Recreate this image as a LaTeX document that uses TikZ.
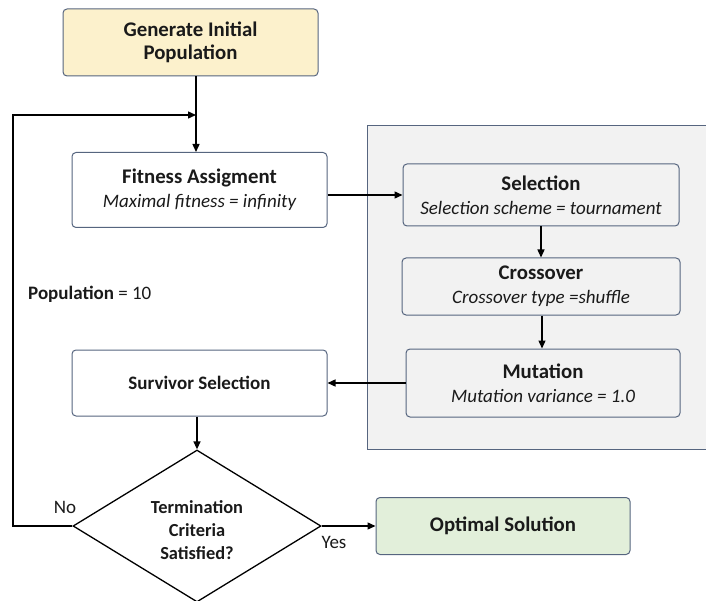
\documentclass[tikz,border=0pt]{standalone}
\usepackage{fontspec}
\setmainfont{Carlito}
\usetikzlibrary{arrows.meta,shapes.geometric}
\definecolor{bordc}{HTML}{56657F}
\definecolor{genfill}{HTML}{FCF1CC}
\definecolor{optfill}{HTML}{E2EFDA}
\definecolor{panelfill}{HTML}{F2F2F2}
\definecolor{txt}{HTML}{1A1A1A}
\newcommand{\sbt}{\fontsize{19}{24}\selectfont\mdseries\itshape}
\tikzset{
  box/.style={draw=bordc, line width=1pt, rounded corners=4pt, fill=white,
    align=center, text=txt, inner sep=0pt, font=\fontsize{20.8}{24}\selectfont\bfseries},
  arr/.style={line width=1.4pt, -{Triangle[length=8pt,width=7pt]}},
}
\begin{document}
\begin{tikzpicture}[x=1pt,y=-1pt]
\useasboundingbox (0,0) rectangle (706,601);
% panel
\fill[panelfill] (367,126) rectangle (712,449);
\draw[bordc, line width=1pt] (712,126) -- (367,126) -- (367,449) -- (712,449);

\node[box, fill=genfill, minimum width=255, minimum height=67,
  font=\fontsize{20.8}{23}\selectfont\bfseries] (gen) at (190.5,42.5)
  {\raisebox{-2pt}{Generate Initial}\\\raisebox{-2pt}{Population}};
\node[box, minimum width=255, minimum height=75] (fit) at (199.5,190)
  {Fitness Assigment\\\sbt Maximal fitness = infinity};
\node[box, fill=panelfill, minimum width=276, minimum height=62] (sel) at (541,195)
  {Selection\\\sbt Selection scheme = tournament};
\node[box, fill=panelfill, minimum width=278, minimum height=57] (cro) at (541,286.5)
  {Crossover\\\sbt Crossover type =shuffle};
\node[box, fill=panelfill, minimum width=274, minimum height=68] (mut) at (543,383)
  {Mutation\\\sbt Mutation variance = 1.0};
\node[box, minimum width=255, minimum height=66, font=\fontsize{19}{23}\selectfont\bfseries]
  (sur) at (199.5,383) {Survivor Selection};
\node[draw=black, line width=1.3pt, fill=white, diamond, minimum width=248, minimum height=152,
  inner sep=0pt] (dia) at (197,526) {};
\node[align=center, text=txt, inner sep=0pt, font=\fontsize{18.4}{23}\selectfont\bfseries]
  (diatxt) at (197,530) {Termination\\Criteria\\Satisfied?};
\node[box, fill=optfill, minimum width=254, minimum height=57] (opt) at (503,526)
  {Optimal Solution};

\node[anchor=west, text=txt, inner sep=0pt, font=\fontsize{19}{23}\selectfont] (pop) at (28,294)
  {\textbf{Population} = 10};
\node[text=txt, inner sep=0pt, font=\fontsize{19}{23}\selectfont] (no) at (65,507) {No};
\node[text=txt, inner sep=0pt, font=\fontsize{19}{23}\selectfont] (yes) at (334,542) {Yes};

\coordinate (join) at (196,115);
\coordinate (loopT) at (13,115);
\coordinate (loopB) at (13,526);

\draw[arr] (gen.south -| join) -- (join |- fit.north);
\draw[arr] (dia.west) -- (loopB) -- (loopT) -- (join);
\draw[arr] (fit.east |- sel.west) -- (sel.west);
\draw[arr] (sel.south) -- (cro.north);
\draw[arr] (cro.south -| 542,0) -- (mut.north -| 542,0);
\draw[arr] (mut.west) -- (sur.east);
\draw[arr] (dia.north |- sur.south) -- (dia.north);
\draw[arr] (dia.east) -- (opt.west);
\end{tikzpicture}
\end{document}
